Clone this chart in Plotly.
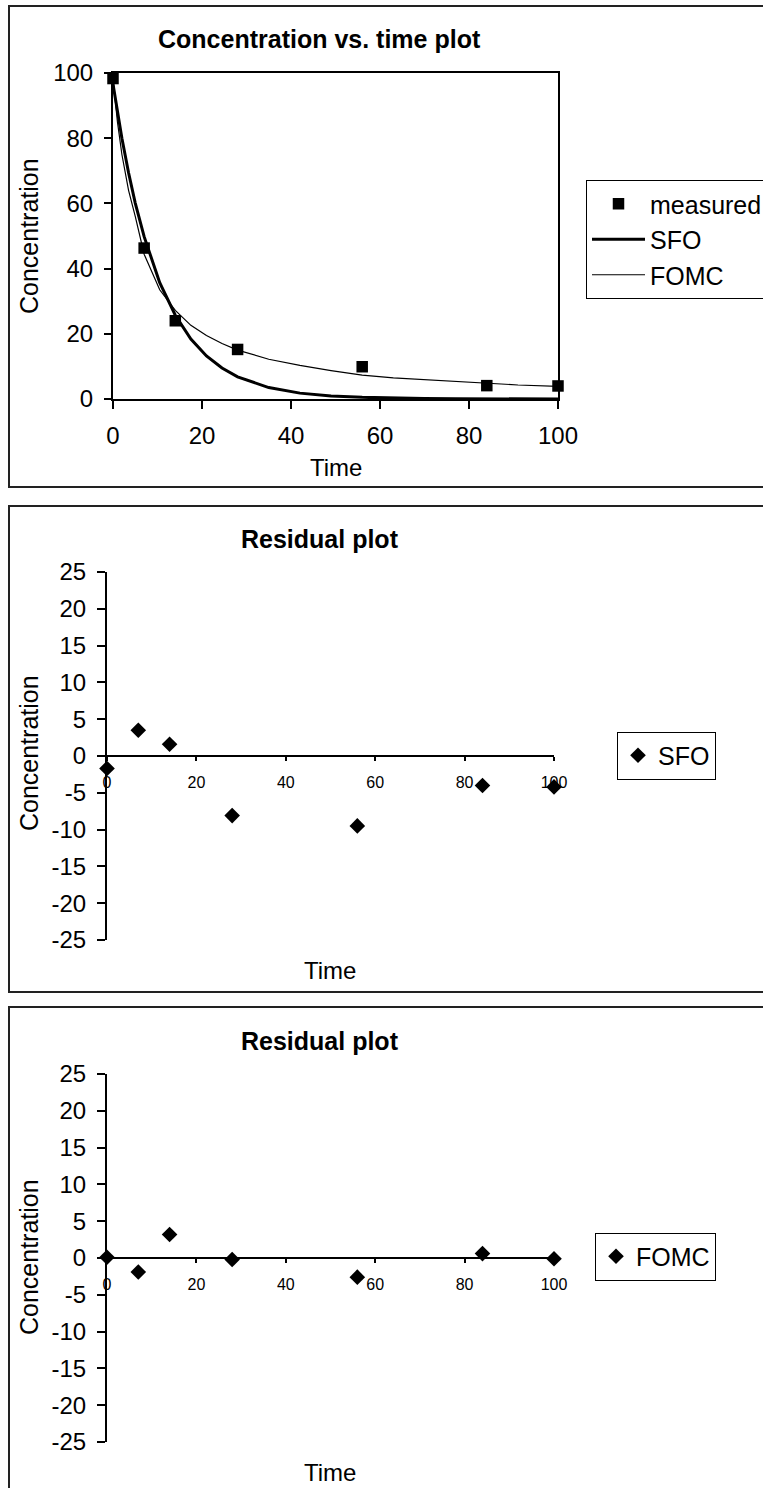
import plotly.graph_objects as go

W, H = 763, 1488

# ---------------- data ----------------
meas_time = [0, 7, 14, 28, 56, 84, 100]
meas_conc = [98.3, 46.3, 24.0, 15.2, 9.9, 4.1, 4.0]

curve_time = [0, 1, 2, 3.5, 5, 7, 10.5, 14, 17.5, 21, 24.5, 28, 35, 42, 49, 56, 63, 70, 77, 84, 91, 100]
sfo_conc = [96.6, 88.0, 80.0, 69.4, 60.1, 49.8, 35.7, 25.7, 18.4, 13.2, 9.5, 6.8, 3.5, 1.8, 0.9, 0.5,
            0.25, 0.13, 0.07, 0.03, 0.02, 0.01]
fomc_conc = [98.4, 85.0, 75.0, 64.0, 56.0, 44.4, 33.5, 27.2, 22.6, 19.5, 17.0, 15.0, 12.2, 10.3, 8.7, 7.3,
             6.5, 5.9, 5.3, 4.7, 4.3, 3.9]

resid_time = [0, 7, 14, 28, 56, 84, 100]
sfo_resid = [-1.7, 3.5, 1.6, -8.1, -9.5, -4.0, -4.2]
fomc_resid = [0.1, -1.9, 3.2, -0.2, -2.6, 0.6, -0.1]

conc_ticks = [0, 20, 40, 60, 80, 100]
resid_ticks = [25, 20, 15, 10, 5, 0, -5, -10, -15, -20, -25]
resid_tick_text = ["25", "20", "15", "10", "5", "0", "-5", "-10", "-15", "-20", "-25"]
time_ticks = [0, 20, 40, 60, 80, 100]

FONT = "Arial, Liberation Sans, sans-serif"

def px_x(p):
    return p / W

def px_y(p):
    return 1 - p / H

fig = go.Figure()

# ---- panel 1 ----
fig.add_trace(go.Scatter(x=meas_time, y=meas_conc, mode="markers", name="measured",
                         marker=dict(symbol="square", size=11.5, color="black"),
                         cliponaxis=False, xaxis="x", yaxis="y", legend="legend"))
fig.add_trace(go.Scatter(x=curve_time, y=sfo_conc, mode="lines", name="SFO",
                         line=dict(color="black", width=3), xaxis="x", yaxis="y", legend="legend"))
fig.add_trace(go.Scatter(x=curve_time, y=fomc_conc, mode="lines", name="FOMC",
                         line=dict(color="black", width=1.2), xaxis="x", yaxis="y", legend="legend"))

# ---- panel 2 ----
fig.add_trace(go.Scatter(x=resid_time, y=sfo_resid, mode="markers", name="SFO",
                         marker=dict(symbol="diamond", size=12, color="black"),
                         cliponaxis=False, xaxis="x2", yaxis="y2", legend="legend2"))
# ---- panel 3 ----
fig.add_trace(go.Scatter(x=resid_time, y=fomc_resid, mode="markers", name="FOMC",
                         marker=dict(symbol="diamond", size=12, color="black"),
                         cliponaxis=False, xaxis="x3", yaxis="y3", legend="legend3"))

axis_common = dict(showline=True, linecolor="black", linewidth=2, ticks="outside",
                   tickcolor="black", tickwidth=2, showgrid=False, zeroline=False,
                   tickfont=dict(family=FONT, size=24, color="black"))
small_tick = {**axis_common, "tickfont": dict(family=FONT, size=16, color="black")}

d1y = [px_y(399), px_y(73)]
d2y = [px_y(940), px_y(572)]
d3y = [px_y(1442), px_y(1074)]

def mid(d):
    return (d[0] + d[1]) / 2

legend_font = dict(family=FONT, size=25, color="black")

fig.update_layout(
    width=W, height=H, autosize=False,
    margin=dict(l=0, r=0, t=0, b=0, autoexpand=False),
    paper_bgcolor="white", plot_bgcolor="white",
    font=dict(family=FONT, color="black"),
    xaxis=dict(domain=[px_x(113), px_x(558)], range=[0, 100], tickvals=time_ticks,
               anchor="y", mirror=True, ticklen=8, ticklabelstandoff=6, **axis_common),
    yaxis=dict(domain=d1y, range=[0, 100], tickvals=conc_ticks,
               anchor="x", mirror=True, ticklen=7, ticklabelstandoff=6, **axis_common),
    xaxis2=dict(domain=[px_x(107), px_x(554)], range=[0, 100], tickvals=time_ticks,
                anchor="free", position=mid(d2y), ticklen=4, ticklabelstandoff=8, **small_tick),
    yaxis2=dict(domain=d2y, range=[-25, 25], tickvals=resid_ticks, ticktext=resid_tick_text,
                anchor="x2", ticklen=8, ticklabelstandoff=6, **axis_common),
    xaxis3=dict(domain=[px_x(107), px_x(554)], range=[0, 100], tickvals=time_ticks,
                anchor="free", position=mid(d3y), ticklen=4, ticklabelstandoff=8, **small_tick),
    yaxis3=dict(domain=d3y, range=[-25, 25], tickvals=resid_ticks, ticktext=resid_tick_text,
                anchor="x3", ticklen=8, ticklabelstandoff=6, **axis_common),
    legend=dict(x=px_x(586), y=px_y(180), xanchor="left", yanchor="top",
                bordercolor="black", borderwidth=1, bgcolor="white",
                font=legend_font, itemwidth=53),
    legend2=dict(x=px_x(617), y=px_y(755.5), xanchor="left", yanchor="middle",
                 bordercolor="black", borderwidth=1, bgcolor="white",
                 font=legend_font, itemwidth=30),
    legend3=dict(x=px_x(595), y=px_y(1256.5), xanchor="left", yanchor="middle",
                 bordercolor="black", borderwidth=1, bgcolor="white",
                 font=legend_font, itemwidth=30),
    showlegend=True,
)

# panel frames
for top, bot in [(6, 487), (506, 992), (1007, 1500)]:
    fig.add_shape(type="rect", xref="paper", yref="paper",
                  x0=px_x(9), x1=1.02, y0=px_y(bot), y1=px_y(top),
                  line=dict(color="#222222", width=2), fillcolor="rgba(0,0,0,0)", layer="below")

def ann(text, x, y, size=25, bold=False, angle=0):
    fig.add_annotation(text=f"<b>{text}</b>" if bold else text, xref="paper", yref="paper",
                       x=px_x(x), y=px_y(y), xanchor="center", yanchor="middle",
                       showarrow=False, textangle=angle,
                       font=dict(family=FONT, size=size, color="black"))

ann("Concentration vs. time plot", 319, 39, bold=True)
ann("Residual plot", 320, 539, bold=True)
ann("Residual plot", 320, 1041, bold=True)
ann("Concentration", 29, 236, angle=-90)
ann("Concentration", 29, 753, angle=-90)
ann("Concentration", 29, 1257, angle=-90)
ann("Time", 336, 468, size=24)
ann("Time", 330, 970, size=24)
ann("Time", 330, 1472, size=24)

fig.write_html("out.html", config={"displayModeBar": False},
               post_script="document.body.style.margin='0';document.body.style.overflow='hidden';")
